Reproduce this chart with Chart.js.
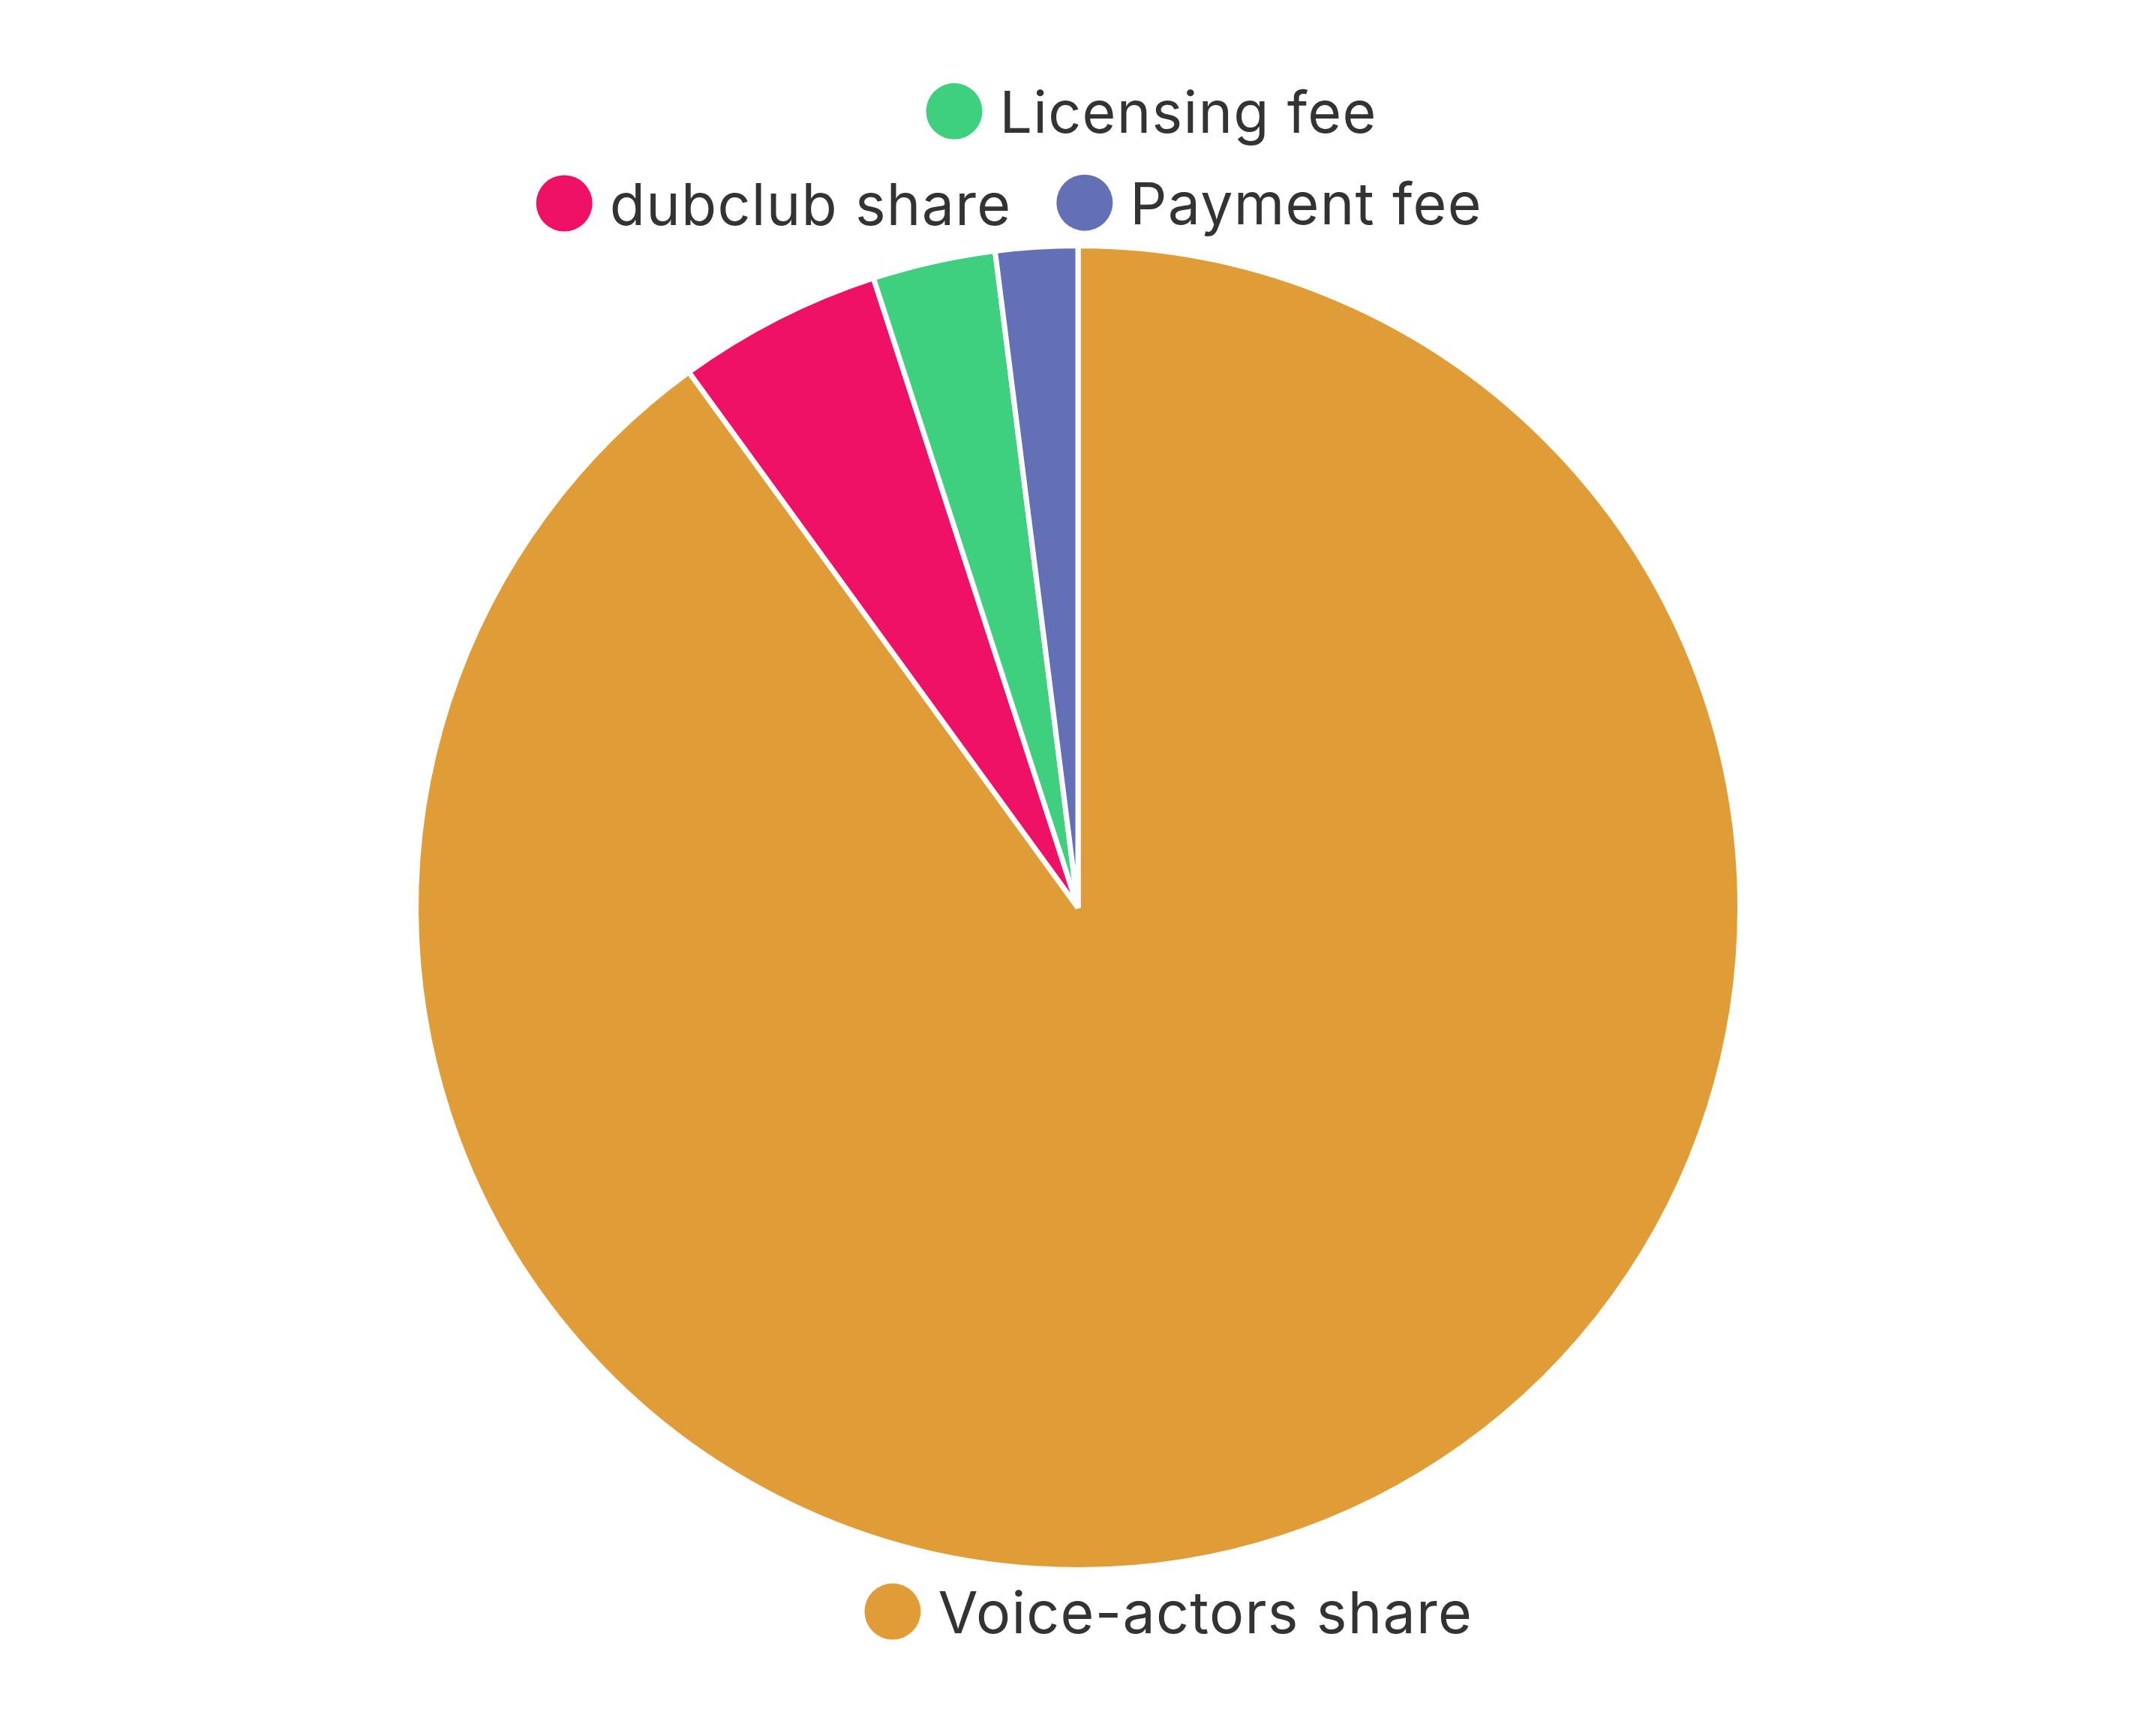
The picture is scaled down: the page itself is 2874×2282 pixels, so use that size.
<!DOCTYPE html>
<html>
<head>
<meta charset="utf-8">
<script src="https://cdn.jsdelivr.net/npm/chart.js@4.4.1/dist/chart.umd.min.js"></script>
<style>
  html, body { margin: 0; padding: 0; background: #ffffff; }
  #wrap { width: 2874px; height: 2282px; position: relative; }
</style>
</head>
<body>
<div id="wrap"><canvas id="c"></canvas></div>
<script>
const categories = ["Voice-actors share", "dubclub share", "Licensing fee", "Payment fee"];
const values = [90, 5, 3, 2];
const colors = ["#E09D37", "#EE1166", "#3ECF7F", "#6370B5"];

// label placement (circle centre offset from pie centre, in units of the radius)
const labelOffsets = [
  [-0.280, 1.063],
  [-0.776, -1.064],
  [-0.187, -1.203],
  [0.010, -1.065]
];

const outLabels = {
  id: 'outLabels',
  afterDatasetsDraw(chart) {
    const ctx = chart.ctx;
    const meta = chart.getDatasetMeta(0);
    const arc0 = meta.data[0];
    const cx = arc0.x, cy = arc0.y, R = arc0.outerRadius;
    const fontSize = 77;
    const dotR = 37.5;
    ctx.save();
    ctx.font = fontSize + 'px Inter, "Noto Sans", sans-serif';
    try { ctx.letterSpacing = '1.3px'; } catch (e) {}
    ctx.textAlign = 'left';
    ctx.textBaseline = 'alphabetic';
    chart.data.labels.forEach((lab, i) => {
      const off = labelOffsets[i];
      const x = cx + off[0] * R;
      const y = cy + off[1] * R;
      ctx.beginPath();
      ctx.arc(x, y, dotR, 0, Math.PI * 2);
      ctx.fillStyle = chart.data.datasets[0].backgroundColor[i];
      ctx.fill();
      ctx.fillStyle = '#333333';
      ctx.fillText(lab, x + dotR + 23, y + 29);
    });
    ctx.restore();
  }
};

new Chart(document.getElementById('c'), {
  type: 'pie',
  data: {
    labels: categories,
    datasets: [{
      data: values,
      backgroundColor: colors,
      borderColor: '#ffffff',
      borderWidth: 7
    }]
  },
  options: {
    responsive: true,
    maintainAspectRatio: false,
    devicePixelRatio: 1,
    animation: false,
    layout: { padding: { top: 324, bottom: 186, left: 0, right: 0 } },
    plugins: {
      legend: { display: false },
      tooltip: { enabled: false }
    }
  },
  plugins: [outLabels]
});
</script>
</body>
</html>
